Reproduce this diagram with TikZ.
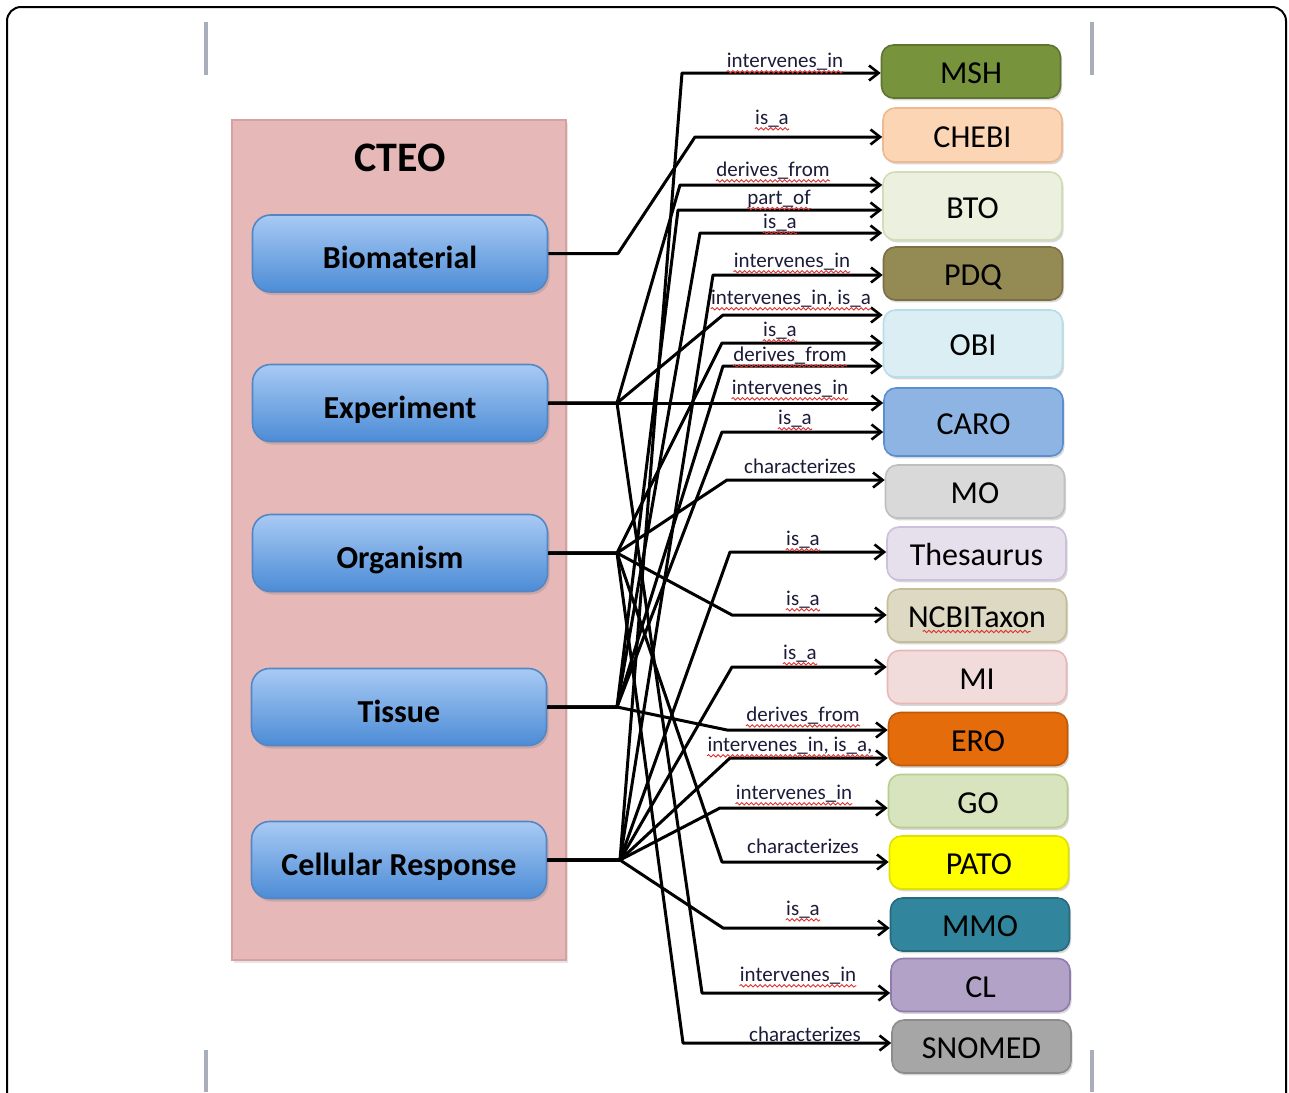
\documentclass[tikz,border=0pt]{standalone}
\usepackage{fontspec}
\setmainfont{Carlito}
\usetikzlibrary{arrows.meta,decorations.pathmorphing,shadows}
\definecolor{pinkF}{HTML}{E6B9B8}
\definecolor{pinkD}{HTML}{D8A09F}
\definecolor{blueT}{HTML}{A8CAF4}
\definecolor{blueB}{HTML}{4C8CD6}
\definecolor{blueD}{HTML}{5586C4}
\definecolor{barG}{HTML}{A9AEBB}
\definecolor{labC}{HTML}{1C1C3A}
\definecolor{sqC}{HTML}{E03030}
\definecolor{cMSH}{HTML}{77933C}\definecolor{dMSH}{HTML}{5E7530}
\definecolor{cCHEBI}{HTML}{FCD5B5}\definecolor{dCHEBI}{HTML}{EEB890}
\definecolor{cBTO}{HTML}{EBF1DE}\definecolor{dBTO}{HTML}{D0DDB8}
\definecolor{cPDQ}{HTML}{948A54}\definecolor{dPDQ}{HTML}{7A7044}
\definecolor{cOBI}{HTML}{DBEEF4}\definecolor{dOBI}{HTML}{B7DDE8}
\definecolor{cCARO}{HTML}{8EB4E3}\definecolor{dCARO}{HTML}{5B8FD0}
\definecolor{cMO}{HTML}{D9D9D9}\definecolor{dMO}{HTML}{BFBFBF}
\definecolor{cTHE}{HTML}{E6E0EC}\definecolor{dTHE}{HTML}{CCC0DA}
\definecolor{cNCBI}{HTML}{DDD9C3}\definecolor{dNCBI}{HTML}{C4BD97}
\definecolor{cMI}{HTML}{F2DCDB}\definecolor{dMI}{HTML}{E6B9B8}
\definecolor{cERO}{HTML}{E46C0A}\definecolor{dERO}{HTML}{C05A08}
\definecolor{cGO}{HTML}{D7E4BD}\definecolor{dGO}{HTML}{B8CE8F}
\definecolor{cPATO}{HTML}{FFFF00}\definecolor{dPATO}{HTML}{E0E000}
\definecolor{cMMO}{HTML}{31859C}\definecolor{dMMO}{HTML}{276A7D}
\definecolor{cCL}{HTML}{B3A2C7}\definecolor{dCL}{HTML}{8F7BAD}
\definecolor{cSNO}{HTML}{A6A6A6}\definecolor{dSNO}{HTML}{8C8C8C}
\begin{document}
\begin{tikzpicture}[x=0.5pt,y=-0.5pt,
  src/.style={rounded corners=9pt, top color=blueT, bottom color=blueB, draw=blueD,
    line width=0.8pt, minimum width=147.5pt, minimum height=38.5pt, text=black,
    text height=15pt, text depth=0pt,
    font=\bfseries\fontsize{16}{18}\selectfont,
    drop shadow={shadow xshift=1pt, shadow yshift=-1.5pt, opacity=0.3}},
  tgt/.style={rounded corners=6pt, line width=0.8pt, minimum width=89.5pt,
    minimum height=26.5pt, text=black, text height=12pt, text depth=0pt,
    font=\fontsize{16}{18}\selectfont,
    drop shadow={shadow xshift=0.8pt, shadow yshift=-1.2pt, opacity=0.3}},
  lab/.style={inner sep=0pt, text=labC, font=\fontsize{10.5}{12}\selectfont},
  sq/.style={draw=sqC, line width=0.45pt, decorate,
    decoration={snake, amplitude=0.6pt, segment length=2.4pt}},
  conn/.style={draw=black, line width=1.5pt, line join=round,
    -{Straight Barb[length=4.8pt,width=7.5pt,line width=1.3pt]}}
]
\clip (0,0) rectangle (1289,1092);
\fill[white] (0,0) rectangle (1289,1092);
% frame
\draw[line width=1pt, rounded corners=7pt] (7,7) rectangle (1286,1130);
% page edge marks
\fill[barG] (204,22) rectangle (208,75);
\fill[barG] (1090,22) rectangle (1094,75);
\fill[barG] (204,1050) rectangle (208,1092);
\fill[barG] (1090,1050) rectangle (1094,1092);
% CTEO container
\node[draw=pinkD, fill=pinkF, line width=0.6pt, minimum width=167pt, minimum height=420pt,
  drop shadow={shadow xshift=1pt, shadow yshift=-1.5pt, opacity=0.2}] (box) at (399,540) {};
\node[font=\bfseries\fontsize{21}{24}\selectfont] (title) at (400,158) {CTEO};
% sources
\node[src] (Bio) at (400,253.5) {Biomaterial};
\node[src] (Exp) at (400,403) {Experiment};
\node[src] (Org) at (400,553) {Organism};
\node[src] (Tis) at (399,707) {Tissue};
\node[src] (Cell) at (399,860) {Cellular Response};
% targets
\node[tgt, fill=cMSH, draw=dMSH] (MSH) at (971,71.5) {MSH};
\node[tgt, fill=cCHEBI, draw=dCHEBI, minimum height=27pt] (CHEBI) at (972.5,135) {CHEBI};
\node[tgt, fill=cBTO, draw=dBTO, minimum height=34pt] (BTO) at (972.5,206) {BTO};
\node[tgt, fill=cPDQ, draw=dPDQ] (PDQ) at (973,273.5) {PDQ};
\node[tgt, fill=cOBI, draw=dOBI, minimum height=33.5pt] (OBI) at (973,343.5) {OBI};
\node[tgt, fill=cCARO, draw=dCARO, minimum height=34pt] (CARO) at (973.5,422) {CARO};
\node[tgt, fill=cMO, draw=dMO] (MO) at (975,491.5) {MO};
\node[tgt, fill=cTHE, draw=dTHE] (THE) at (976.5,553.5) {Thesaurus};
\node[tgt, fill=cNCBI, draw=dNCBI] (NCBI) at (977,615.5) {NCBITaxon};
\node[tgt, fill=cMI, draw=dMI] (MI) at (977,677) {MI};
\node[tgt, fill=cERO, draw=dERO] (ERO) at (978,739) {ERO};
\node[tgt, fill=cGO, draw=dGO] (GO) at (978,801) {GO};
\node[tgt, fill=cPATO, draw=dPATO] (PATO) at (979,862.5) {PATO};
\node[tgt, fill=cMMO, draw=dMMO] (MMO) at (980,924.5) {MMO};
\node[tgt, fill=cCL, draw=dCL] (CL) at (980.5,985) {CL};
\node[tgt, fill=cSNO, draw=dSNO] (SNO) at (981.5,1046.5) {SNOMED};
\draw[sq] ([yshift=-2pt]NCBI.base west) ++(18pt,0) -- ++(54pt,0);
% junctions
\coordinate (jB) at (618,253.5);
\coordinate (jE) at (617,403);
\coordinate (jO) at (617,553);
\coordinate (jT) at (617,707);
\coordinate (jC) at (620,860);
% bends
\coordinate (b1) at (682,73);
\coordinate (b2) at (695,137);
\coordinate (b3) at (680,185);
\coordinate (b4) at (678,210);
\coordinate (b5) at (700,233);
\coordinate (b6) at (713,275);
\coordinate (b7) at (723,315);
\coordinate (b8) at (722,343);
\coordinate (b9) at (723,366);
\coordinate (b10) at (740,403);
\coordinate (b11) at (722,432);
\coordinate (b12) at (727,480);
\coordinate (b13) at (730,552);
\coordinate (b14) at (732,615);
\coordinate (b15) at (732,667);
\coordinate (b16) at (727,730);
\coordinate (b17) at (730,758);
\coordinate (b18) at (720,808);
\coordinate (b19) at (722,862);
\coordinate (b20) at (723,928);
\coordinate (b21) at (702,993);
\coordinate (b22) at (683,1043);
% connectors
\draw[conn] (Cell.east) -- (jC) -- (b1) -- (MSH.west |- b1);
\draw[conn] (Bio.east) -- (jB) -- (b2) -- (CHEBI.west |- b2);
\draw[conn] (Exp.east) -- (jE) -- (b3) -- (BTO.west |- b3);
\draw[conn] (Tis.east) -- (jT) -- (b4) -- (BTO.west |- b4);
\draw[conn] (Tis.east) -- (jT) -- (b5) -- (BTO.west |- b5);
\draw[conn] (Cell.east) -- (jC) -- (b6) -- (PDQ.west |- b6);
\draw[conn] (Exp.east) -- (jE) -- (b7) -- (OBI.west |- b7);
\draw[conn] (Org.east) -- (jO) -- (b8) -- (OBI.west |- b8);
\draw[conn] (Tis.east) -- (jT) -- (b9) -- (OBI.west |- b9);
\draw[conn] (Exp.east) -- (jE) -- (b10) -- (CARO.west |- b10);
\draw[conn] (Tis.east) -- (jT) -- (b11) -- (CARO.west |- b11);
\draw[conn] (Org.east) -- (jO) -- (b12) -- (MO.west |- b12);
\draw[conn] (Cell.east) -- (jC) -- (b13) -- (THE.west |- b13);
\draw[conn] (Org.east) -- (jO) -- (b14) -- (NCBI.west |- b14);
\draw[conn] (Cell.east) -- (jC) -- (b15) -- (MI.west |- b15);
\draw[conn] (Tis.east) -- (jT) -- (b16) -- (ERO.west |- b16);
\draw[conn] (Cell.east) -- (jC) -- (b17) -- (ERO.west |- b17);
\draw[conn] (Cell.east) -- (jC) -- (b18) -- (GO.west |- b18);
\draw[conn] (Org.east) -- (jO) -- (b19) -- (PATO.west |- b19);
\draw[conn] (Cell.east) -- (jC) -- (b20) -- (MMO.west |- b20);
\draw[conn] (Exp.east) -- (jE) -- (b21) -- (CL.west |- b21);
\draw[conn] (Org.east) -- (jO) -- (b22) -- (SNO.west |- b22);
% labels
\node[lab] (L1) at (785,62) {intervenes\_in};
\node[lab] (L2) at (772,119) {is\_a};
\node[lab] (L3) at (773,171) {derives\_from};
\node[lab] (L4) at (779,199) {part\_of};
\node[lab] (L5) at (780,223) {is\_a};
\node[lab] (L6) at (792,262) {intervenes\_in};
\node[lab] (L7) at (791,299) {intervenes\_in, is\_a};
\node[lab] (L8) at (780,331) {is\_a};
\node[lab] (L9) at (790,356) {derives\_from};
\node[lab] (L10) at (790,389) {intervenes\_in};
\node[lab] (L11) at (795,419) {is\_a};
\node[lab] (L12) at (800,466) {characterizes};
\node[lab] (L13) at (803,540) {is\_a};
\node[lab] (L14) at (803,600) {is\_a};
\node[lab] (L15) at (800,654) {is\_a};
\node[lab] (L16) at (803,716) {derives\_from};
\node[lab] (L17) at (790,746) {intervenes\_in, is\_a,};
\node[lab] (L18) at (794,794) {intervenes\_in};
\node[lab] (L19) at (803,846) {characterizes};
\node[lab] (L20) at (803,910) {is\_a};
\node[lab] (L21) at (798,976) {intervenes\_in};
\node[lab] (L22) at (805,1034) {characterizes};
\foreach \l in {L1,L2,L3,L4,L5,L6,L7,L8,L9,L10,L11,L13,L14,L15,L16,L17,L18,L20,L21}
  \draw[sq] ([yshift=-2pt]\l.base west) -- ([yshift=-2pt]\l.base east);
\end{tikzpicture}
\end{document}
